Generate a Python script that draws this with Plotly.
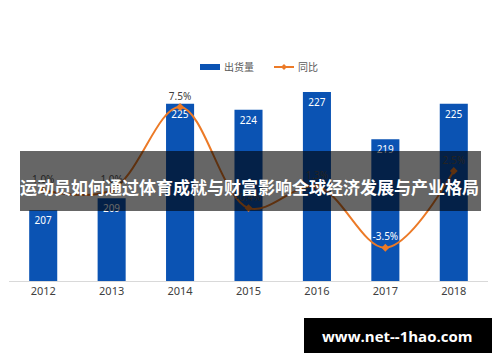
import plotly.graph_objects as go

years = ["2012", "2013", "2014", "2015", "2016", "2017", "2018"]
shipments = [207, 209, 225, 224, 227, 219, 225]
yoy = [1.0, 1.0, 7.5, -0.4, 1.3, -3.5, 2.5]
yoy_labels = ["1.0%", "1.0%", "7.5%", "-0.4%", "1.3%", "-3.5%", "2.5%"]
yoy_label_colors = ["#595959", "#595959", "#404040", "#595959", "#595959", "#ffffff", "#595959"]
title_text = "运动员如何通过体育成就与财富影响全球经济发展与产业格局"
watermark = "www.net--1hao.com"
legend_names = ["出货量", "同比"]

FONT = "Noto Sans, Noto Sans CJK SC, sans-serif"
BLUE = "#0B53B3"
ORANGE = "#EC7A27"

# page is offset by body margin of 8px; figure sized to fit
OFF = 8
W, H = 492, 354
PL, PR, PT, PB = 9, 488, 20, 281  # plot area in page pixels
ml, mr, mt, mb = PL - OFF, W - (PR - OFF), PT - OFF, H - (PB - OFF)
pw, ph = PR - PL, PB - PT


def px(x):
    return (x - PL) / pw


def py(y):
    return (PB - y) / ph


fig = go.Figure()
fig.add_trace(go.Bar(
    x=years, y=shipments, name=legend_names[0],
    marker=dict(color=BLUE, line=dict(width=0)),
    width=0.41,
    text=[str(v) for v in shipments], textposition="inside",
    insidetextanchor="end",
    textfont=dict(color="white", size=10, family=FONT),
    cliponaxis=False, showlegend=False,
))
fig.add_trace(go.Scatter(
    x=years, y=yoy, name=legend_names[1], yaxis="y2",
    mode="lines+markers+text",
    line=dict(color=ORANGE, width=2, shape="spline", smoothing=1.0),
    marker=dict(color=ORANGE, size=6, symbol="diamond"),
    text=yoy_labels, textposition="top center",
    textfont=dict(color=yoy_label_colors, size=10, family=FONT),
    cliponaxis=False, showlegend=False,
))

shapes = [
    # legend symbols
    dict(type="rect", xref="paper", yref="paper", x0=px(200), x1=px(220), y0=py(70), y1=py(64),
         fillcolor=BLUE, line=dict(width=0)),
    dict(type="line", xref="paper", yref="paper", x0=px(274), x1=px(294), y0=py(67), y1=py(67),
         line=dict(color=ORANGE, width=2)),
    dict(type="path", xref="paper", yref="paper",
         path=f"M {px(284)},{py(64)} L {px(287)},{py(67)} L {px(284)},{py(70)} L {px(281)},{py(67)} Z",
         fillcolor=ORANGE, line=dict(width=0)),
    # overlay banner
    dict(type="rect", xref="paper", yref="paper", layer="above",
         x0=px(20), x1=px(481), y0=py(211), y1=py(151),
         fillcolor="rgba(0,0,0,0.6)", line=dict(width=0)),
    # watermark box
    dict(type="rect", xref="paper", yref="paper", layer="above",
         x0=px(304), x1=px(493), y0=py(353), y1=py(318),
         fillcolor="black", line=dict(width=0)),
]

annotations = [
    dict(text=legend_names[0], xref="paper", yref="paper", x=px(222), y=py(67),
         xanchor="left", yanchor="middle", showarrow=False,
         font=dict(size=10, color="#595959", family=FONT)),
    dict(text=legend_names[1], xref="paper", yref="paper", x=px(296), y=py(67),
         xanchor="left", yanchor="middle", showarrow=False,
         font=dict(size=10, color="#595959", family=FONT)),
    dict(text="<b>" + title_text + "</b>", xref="paper", yref="paper",
         x=px(249), y=py(186), xanchor="center", yanchor="middle",
         showarrow=False, font=dict(size=17, color="white", family="Noto Sans CJK SC")),
    dict(text="<b>" + watermark + "</b>", xref="paper", yref="paper",
         x=px(397), y=py(335.5), xanchor="center", yanchor="middle",
         showarrow=False, font=dict(size=15, color="white", family="Open Sans, Noto Sans")),
]

fig.update_layout(
    width=W, height=H,
    margin=dict(l=ml, r=mr, t=mt, b=mb, pad=0),
    paper_bgcolor="white", plot_bgcolor="white",
    font=dict(family=FONT, color="#404040"),
    showlegend=False,
    xaxis=dict(type="category", showgrid=False, showline=True, linecolor="#d9d9d9",
               linewidth=1, ticks="", tickfont=dict(size=11, color="#404040", family=FONT)),
    yaxis=dict(range=[195, 239.2], visible=False, showgrid=False),
    yaxis2=dict(range=[-6.1, 14.3], overlaying="y", side="right", visible=False, showgrid=False),
    shapes=shapes,
    annotations=annotations,
)

fig.write_html("out.html")
